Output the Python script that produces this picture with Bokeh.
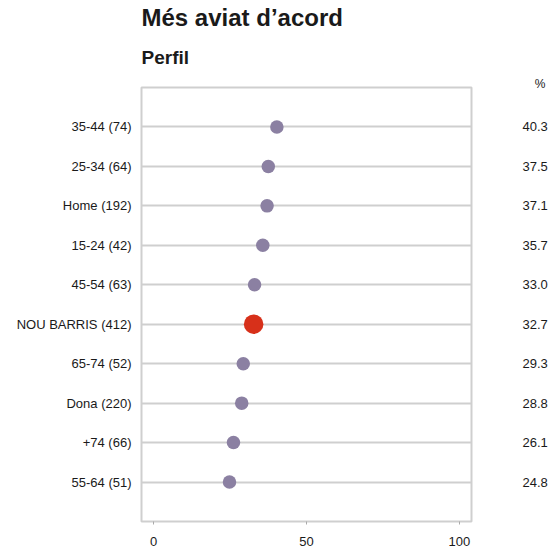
from bokeh.plotting import figure
from bokeh.layouts import column
from bokeh.models import FactorRange, CategoricalAxis, FixedTicker, Range1d, Title
from bokeh.core.properties import value
from bokeh.embed import file_html
from bokeh.resources import INLINE

# ---- data ----
title_text = "Més aviat d’acord"
subtitle_text = "Perfil"
unit_text = "%"
categories = ["35-44 (74)", "25-34 (64)", "Home (192)", "15-24 (42)", "45-54 (63)",
              "NOU BARRIS (412)", "65-74 (52)", "Dona (220)", "+74 (66)", "55-64 (51)"]
values = [40.3, 37.5, 37.1, 35.7, 33.0, 32.7, 29.3, 28.8, 26.1, 24.8]
total_label = "NOU BARRIS (412)"
x_ticks = [0, 50, 100]

value_labels = [f"{v:.1f}" for v in values]

FONT = "Liberation Sans"
GRID = "#cfcfcf"
DOT = "#8b80a2"
RED = "#d7301a"
INK = "#1a1a1a"

W = 550
HEAD_H = 75
MAIN_H = 548 - HEAD_H
BORDER_L = 141
BORDER_R = 79
FRAME_W = W - BORDER_L - BORDER_R

# ---- header (titles) ----
head = figure(width=W, height=HEAD_H, output_backend="svg", toolbar_location=None,
              x_range=Range1d(0, FRAME_W), y_range=Range1d(0, HEAD_H),
              x_axis_type=None, y_axis_type=None,
              min_border_left=BORDER_L, min_border_right=BORDER_R,
              min_border_top=0, min_border_bottom=0)
head.title = None
head.outline_line_color = None
head.text(x=[0], y=[HEAD_H - 17], text=[title_text], text_font=value(FONT),
          text_font_size="24px", text_font_style="bold", text_color=INK,
          text_baseline="alphabetic", text_align="left")
head.text(x=[0], y=[HEAD_H - 57], text=[subtitle_text], text_font=value(FONT),
          text_font_size="19px", text_font_style="bold", text_color=INK,
          text_baseline="alphabetic", text_align="left")

# ---- main chart ----
p = figure(width=W, height=MAIN_H, output_backend="svg", toolbar_location=None,
           x_range=Range1d(-4, 104),
           y_range=FactorRange(factors=categories[::-1], range_padding=0.5,
                               range_padding_units="absolute"),
           min_border_left=BORDER_L, min_border_right=BORDER_R, min_border_top=87 - HEAD_H,
           min_border_bottom=27)
p.title = None
p.add_layout(Title(text=unit_text, align="right", offset=-74, standoff=-6,
                   text_font=FONT, text_font_size="12px", text_font_style="normal",
                   text_color=INK), "above")

p.outline_line_color = GRID
p.outline_line_width = 2

p.xgrid.grid_line_color = None
p.ygrid.grid_line_color = GRID
p.ygrid.grid_line_width = 2

xa = p.xaxis[0]
xa.ticker = FixedTicker(ticks=x_ticks)
xa.axis_line_color = None
xa.major_tick_in = 0
xa.major_tick_out = 3
xa.major_tick_line_color = "#aaaaaa"
xa.minor_tick_line_color = None
xa.major_label_standoff = 12
xa.major_label_text_font = FONT
xa.major_label_text_font_size = "13px"
xa.major_label_text_color = INK

ya = p.yaxis[0]
ya.axis_line_color = None
ya.major_tick_line_color = None
ya.minor_tick_line_color = None
ya.major_tick_in = 0
ya.major_tick_out = 0
ya.major_label_standoff = 10
ya.major_label_text_font = FONT
ya.major_label_text_font_size = "13px"
ya.major_label_text_color = INK

p.extra_y_ranges = {"vals": FactorRange(factors=value_labels[::-1], range_padding=0.5,
                                        range_padding_units="absolute")}
ra = CategoricalAxis(y_range_name="vals")
ra.axis_line_color = None
ra.major_tick_line_color = None
ra.minor_tick_line_color = None
ra.major_tick_in = 0
ra.major_tick_out = 0
ra.major_label_standoff = 51
ra.major_label_text_font = FONT
ra.major_label_text_font_size = "13px"
ra.major_label_text_color = INK
p.add_layout(ra, "right")

others_x = [v for c, v in zip(categories, values) if c != total_label]
others_y = [c for c in categories if c != total_label]
tot_x = [v for c, v in zip(categories, values) if c == total_label]
tot_y = [c for c in categories if c == total_label]

p.scatter(others_x, others_y, size=13.5, fill_color=DOT, line_color=None)
p.scatter(tot_x, tot_y, size=19.5, fill_color=RED, line_color=None)

layout = column(head, p, spacing=0)
open("out.html", "w").write(file_html(layout, INLINE))
